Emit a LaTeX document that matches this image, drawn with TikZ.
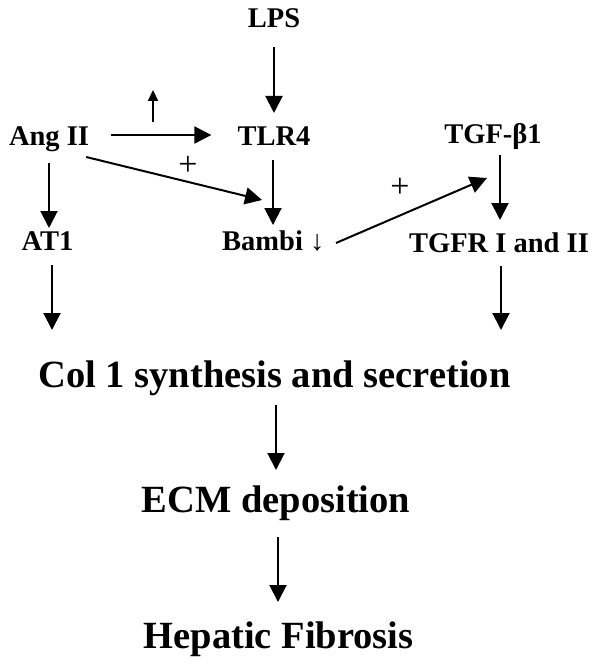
\documentclass[tikz,border=0pt]{standalone}
\usepackage{fontspec}
\setmainfont{Liberation Serif}
\usetikzlibrary{arrows.meta,calc}
\tikzset{
  lbl/.style={inner sep=0pt, anchor=base, font=\bfseries\fontsize{28.5}{30}\selectfont},
  big/.style={inner sep=0pt, anchor=base, font=\bfseries\fontsize{38.5}{40}\selectfont},
  sign/.style={inner sep=0pt, anchor=center, font=\fontsize{34}{36}\selectfont},
  arr/.style={line width=2pt, -{Triangle[width=17pt,length=17pt]}},
  uparr/.style={line width=2.2pt, -{Triangle[width=10pt,length=11pt]}}
}
\begin{document}
\begin{tikzpicture}[x=1pt,y=-1pt]
\fill[white] (0,0) rectangle (600,666);
\useasboundingbox (0,0) rectangle (600,666);
% nodes
\node[lbl] (lps) at (274,28) {LPS};
\node[lbl] (tlr) at (274,145) {TLR4};
\node[lbl] (ang) at (49,145) {Ang II};
\node[lbl] (tgf) at (493,143) {TGF-β1};
\node[lbl, anchor=base west] (bambi) at (222,250) {Bambi {\mdseries ↓}};
\node[lbl] (at1) at (47.5,250) {AT1};
\node[lbl] (tgfr) at (499,252) {TGFR I and II};
\node[big] (col) at (274.5,387) {Col 1 synthesis and secretion};
\node[big] (ecm) at (276,512) {ECM deposition};
\node[big] (hep) at (278.5,648) {Hepatic Fibrosis};
\node[sign] (plusA) at (188,166) {+};
\node[sign] (plusB) at (400,188) {+};
\coordinate (upbase) at (153,122);
\coordinate (uptip) at (153,90);
% connectors
\draw[arr] ($(lps.base)+(0,19)$) -- ($(lps.base |- tlr.base)+(0,-32)$);
\draw[arr] ($(tlr.base)+(-1,15)$) -- ($(tlr.base |- bambi.base)+(-1,-25)$);
\draw[arr] ($(ang.base east)+(22,-10)$) -- ($(tlr.base west)+(-26,-10)$);
\draw[uparr] (upbase) -- (uptip);
\draw[arr] ($(ang.base east)+(-3,12)$) -- ($(bambi.base west)+(40,-50)$);
\draw[arr] ($(bambi.base west)+(114,-7)$) -- ($(tgf.base)+(-6,35)$);
\draw[arr] ($(tgf.base)+(7,12)$) -- ($(tgf.base |- tgfr.base)+(7,-32)$);
\draw[arr] ($(tgfr.base)+(2,14)$) -- ($(tgfr.base |- col.base)+(2,-57)$);
\draw[arr] ($(ang.base)+(0,18)$) -- ($(ang.base |- at1.base)+(0,-22)$);
\draw[arr] ($(at1.base)+(4.5,15)$) -- ($(at1.base |- col.base)+(4.5,-57)$);
\draw[arr] ($(col.base)+(1.5,18)$) -- ($(col.base |- ecm.base)+(1.5,-42)$);
\draw[arr] ($(ecm.base)+(2,25)$) -- ($(ecm.base |- hep.base)+(2,-46)$);
\end{tikzpicture}
\end{document}
